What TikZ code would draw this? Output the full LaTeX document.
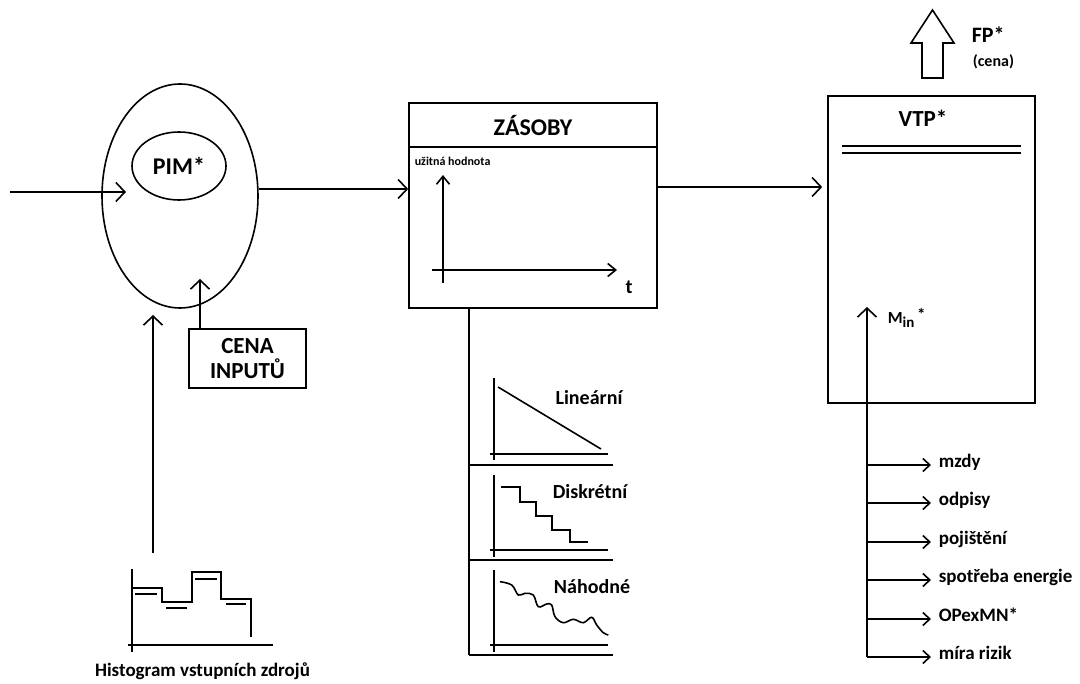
\documentclass[tikz,border=0pt]{standalone}
\usepackage{fontspec}
\setmainfont{Carlito}
\usetikzlibrary{arrows.meta,shapes.geometric}
\newcommand{\fsz}[1]{\fontsize{#1}{#1}\selectfont\bfseries}
\begin{document}
\begin{tikzpicture}[x=1pt,y=-1pt,line width=1.6pt,
  flow/.style={-{Straight Barb[length=9pt,width=19pt,line width=1.6pt]}},
  axis/.style={-{Straight Barb[length=8pt,width=13pt,line width=1.6pt]}},
  branch/.style={-{Straight Barb[length=7pt,width=13pt,line width=1.6pt]}},
  box/.style={draw,rectangle,inner sep=0pt},
  item/.style={font=\fsz{19},anchor=west,inner xsep=7pt,inner ysep=0pt,
    text height=0.75em,text depth=0.25em},
  curve/.style={font=\fsz{20},inner sep=0pt}]
\useasboundingbox (0,0) rectangle (1080,684);

% --- input side: PIM inside the process ellipse
\node[ellipse,draw,minimum width=156pt,minimum height=224pt,inner sep=0pt] (outer) at (180,196) {};
\node[ellipse,draw,minimum width=94pt,minimum height=68pt,inner sep=0pt,font=\fsz{24}] (pim) at (179,166) {PIM*};
\coordinate (src) at (10,192);
\coordinate (srcTip) at (126,192);
\draw[flow] (src) -- (srcTip);

\node[box,minimum width=117pt,minimum height=59pt,align=center,font=\fsz{23}] (cena) at (247.5,358.5) {CENA\\[2pt]INPUTŮ};
\coordinate (cenaTip) at (200,279);
\draw[flow] (cena.north -| cenaTip) -- (cenaTip);

% --- histogram of input resources
\coordinate (histBase) at (153,553);
\coordinate (histTip) at (153,315);
\draw[flow] (histBase) -- (histTip);
\draw (132,569) -- (132,652);
\draw (128,645) -- (273,645);
\draw (132,588) -- (162,588) -- (162,602) -- (192,602) -- (192,572) -- (221,572) -- (221,599) -- (251,599) -- (251,637);
\draw (135,594) -- (157,594);
\draw (166,608) -- (187,608);
\draw (195,579) -- (217,579);
\draw (226,604) -- (246,604);
\node[font=\fsz{19},inner sep=0pt] (hist) at (202.5,671) {Histogram vstupních zdrojů};

% --- inventory block
\node[box,minimum width=248pt,minimum height=205pt] (zas) at (533,205.5) {};
\node[font=\fsz{24},inner sep=0pt] (zasT) at (533,126) {ZÁSOBY};
\draw (zas.west |- 0,147) -- (zas.east |- 0,147);
\node[font=\fsz{12},anchor=west,inner sep=0pt] (uh) at (414,161) {užitná hodnota};
\draw[axis] (443,283) -- (443,175);
\draw[axis] (432,270) -- (617,270);
\node[font=\fsz{20},inner sep=0pt] (tt) at (629,287) {t};
\draw[flow] (outer.east |- 0,189) -- (zas.west |- 0,189);

% --- ways the value of stock decreases
\draw (zas.south -| 469,0) -- (469,655);
\draw (469,465) -- (613,465);
\draw (469,560) -- (613,560);
\draw (469,655) -- (613,655);
% linear
\draw (494,378) -- (494,460);
\draw (490,454) -- (608,454);
\draw (498,387) -- (601,449);
\node[curve] (lin) at (589,398) {Lineární};
% discrete
\draw (494,475) -- (494,557);
\draw (490,550) -- (608,550);
\draw (501,487) -- (520,487) -- (520,502) -- (536,502) -- (536,516) -- (552,516) -- (552,530) -- (570,530) -- (570,542) -- (588,542);
\node[curve] (disk) at (590,492) {Diskrétní};
% random
\draw (494,570) -- (494,652);
\draw (490,645) -- (608,645);
\draw plot[smooth,tension=0.6] coordinates {(500,581.7) (511.7,585) (518.3,595) (525,593.3) (533.3,595) (538.3,606.7) (546.7,604) (551.7,605) (555,616.7) (563.3,622.7) (573.3,619.3) (583.3,622.7) (591.7,617.3) (596.7,625) (603.3,632.7) (608.3,635)};
\node[curve] (nah) at (592,587) {Náhodné};

% --- output block
\node[box,minimum width=207pt,minimum height=307pt] (vtp) at (931.5,249.5) {};
\node[font=\fsz{23},inner sep=0pt] (vtpT) at (923,118) {VTP*};
\draw (842,146) -- (1021,146);
\draw (842,153) -- (1021,153);
\draw[flow] (zas.east |- 0,187) -- ([xshift=-5pt]vtp.west |- 0,187);

% price leaving the block
\draw (922,78) -- (922,43) -- (911,43) -- (932.5,10) -- (954,43) -- (943,43) -- (943,78) -- cycle;
\node[font=\fsz{22},anchor=west,inner sep=0pt] (fp) at (971,35) {FP*};
\node[font=\fsz{16},anchor=west,inner sep=0pt] (fpc) at (972,62) {(cena)};

% --- cost items feeding M_in
\coordinate (minBase) at (867,657);
\coordinate (minTip) at (867,307);
\draw[flow] (minBase) -- (minTip);
\node[font=\fsz{17},anchor=west,inner sep=0pt] (min) at (887,318) {M\raisebox{-4pt}{\fontsize{15}{15}\selectfont in}\,\raisebox{3pt}{*}};
\node[item] (b1) at (931,465) {mzdy};
\node[item] (b2) at (931,503) {odpisy};
\node[item] (b3) at (931,542) {pojištění};
\node[item] (b4) at (931,580) {spotřeba energie};
\node[item] (b5) at (931,619) {OPexMN*};
\node[item] (b6) at (931,657) {míra rizik};
\foreach \b in {b1,b2,b3,b4,b5,b6}
  \draw[branch] (minBase |- \b.west) -- (\b.west);
\end{tikzpicture}
\end{document}
